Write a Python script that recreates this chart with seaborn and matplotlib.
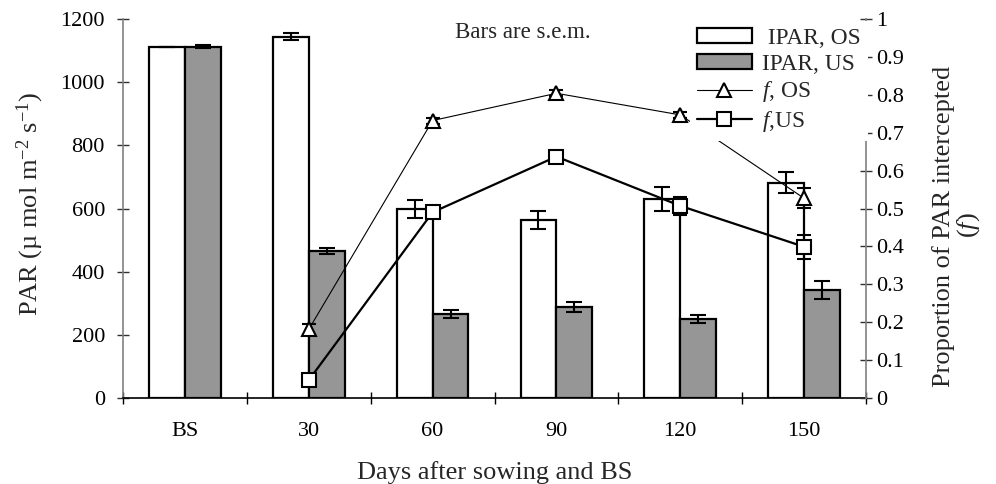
import numpy as np
import pandas as pd
import matplotlib
matplotlib.use("Agg")
import matplotlib.pyplot as plt
import seaborn as sns
from matplotlib.patches import Patch
from matplotlib.lines import Line2D

# Intercepted PAR (µmol m-2 s-1) with s.e.m., over- and under-storey
days = ["BS", "30", "60", "90", "120", "150"]
ipar_os = [1111, 1144, 598, 564, 631, 682]
ipar_os_sem = [1, 12, 28, 28, 38, 34]
ipar_us = [1112, 465, 265, 289, 251, 341]
ipar_us_sem = [5, 10, 13, 16, 13, 28]

# Proportion of PAR intercepted (f) with s.e.m.
f_days = ["30", "60", "90", "120", "150"]
f_os = [0.181, 0.732, 0.804, 0.747, 0.527]
f_os_sem = [0.014, 0.008, 0.008, 0.008, 0.026]
f_us = [0.047, 0.490, 0.637, 0.507, 0.399]
f_us_sem = [0.008, 0.008, 0.008, 0.024, 0.032]

right_ticks = [0, 0.1, 0.2, 0.3, 0.4, 0.5, 0.6, 0.7, 0.8, 0.9, 1]
right_tick_labels = ["0", "0.1", "0.2", "0.3", "0.4", "0.5", "0.6", "0.7", "0.8", "0.9", "1"]

sns.set_theme(style="white")
plt.rcParams["font.family"] = ["Liberation Serif", "DejaVu Serif"]
plt.rcParams["mathtext.fontset"] = "custom"
plt.rcParams["mathtext.rm"] = "Liberation Serif"
plt.rcParams["mathtext.it"] = "Liberation Serif:italic"

TICK_FS = 16
LEGEND_FS = 16.8
LABEL_FS = 19
GRAY = "#969696"
SPINE = "#808080"

W, H = 996, 484
fig = plt.figure(figsize=(W / 100, H / 100), dpi=100)
ax = fig.add_axes([123 / W, 1 - 398 / H, (866 - 123) / W, (398 - 19) / H])

bars = pd.DataFrame({
    "day": days * 2,
    "series": ["IPAR, OS"] * len(days) + ["IPAR, US"] * len(days),
    "par": ipar_os + ipar_us,
})
sns.barplot(data=bars, x="day", y="par", hue="series", order=days,
            hue_order=["IPAR, OS", "IPAR, US"], palette=["white", GRAY],
            saturation=1, width=0.58, edgecolor="black", linewidth=1.6,
            errorbar=None, legend=False, ax=ax)

rects = sorted(ax.patches, key=lambda p: p.get_x())
x_os = [r.get_x() + r.get_width() / 2 for r in rects[0::2]]
x_us = [r.get_x() + r.get_width() / 2 for r in rects[1::2]]
err_kw = dict(fmt="none", ecolor="black", elinewidth=1.5, capsize=5.5, capthick=1.5)
ax.errorbar(x_os, ipar_os, yerr=ipar_os_sem, **err_kw)
ax.errorbar(x_us, ipar_us, yerr=ipar_us_sem, **err_kw)

ax.set_ylim(0, 1200)
ax.set_yticks(range(0, 1201, 200))
ax.set_xlim(-0.5, len(days) - 0.5)
ax.set_xlabel("Days after sowing and BS", fontsize=LABEL_FS, labelpad=15)
ax.set_ylabel("")
ax.set_xticks(np.arange(-0.5, len(days), 1.0), minor=True)
ax.tick_params(axis="x", which="major", length=0, pad=17, labelsize=TICK_FS, colors="black")
ax.tick_params(axis="x", which="minor", direction="inout", length=9, width=1.0, color="black", bottom=True)
ax.tick_params(axis="y", which="major", direction="inout", length=9, width=1.0, color="#303030",
               pad=8.5, labelsize=TICK_FS, left=True, labelcolor="black")
for side in ("top", "right"):
    ax.spines[side].set_visible(False)
ax.spines["left"].set_color(SPINE)
ax.spines["left"].set_linewidth(1.2)
ax.spines["bottom"].set_color("black")
ax.spines["bottom"].set_linewidth(1.2)

ax2 = ax.twinx()
fx = [days.index(d) for d in f_days]
line_err = dict(fmt="none", ecolor="black", elinewidth=1.5, capsize=5, capthick=1.5)
ax2.errorbar(fx, f_os, yerr=f_os_sem, **line_err)
ax2.errorbar(fx, f_us, yerr=f_us_sem, **line_err)
sns.lineplot(x=fx, y=f_os, ax=ax2, color="black", linewidth=0.8, marker="^",
             markersize=10, markerfacecolor="white", markeredgecolor="black",
             markeredgewidth=1.5)
sns.lineplot(x=fx, y=f_us, ax=ax2, color="black", linewidth=1.6, marker="s",
             markersize=10, markerfacecolor="white", markeredgecolor="black",
             markeredgewidth=1.5)
ax2.set_xlim(-0.5, len(days) - 0.5)
ax2.set_ylim(0, 1)
ax2.set_yticks(right_ticks)
ax2.set_yticklabels(right_tick_labels)
ax2.set_ylabel("")
ax2.tick_params(axis="y", which="major", direction="inout", length=9, width=1.0, color="#303030",
                pad=3, labelsize=TICK_FS, right=True, labelcolor="black")
for side in ("top", "left", "bottom"):
    ax2.spines[side].set_visible(False)
ax2.spines["right"].set_color(SPINE)
ax2.spines["right"].set_linewidth(1.2)

handles = [
    Patch(facecolor="white", edgecolor="black", linewidth=1.6, label=" IPAR, OS"),
    Patch(facecolor=GRAY, edgecolor="black", linewidth=1.6, label="IPAR, US"),
    Line2D([], [], color="black", linewidth=0.8, marker="^", markersize=10,
           markerfacecolor="white", markeredgecolor="black", markeredgewidth=1.5,
           label="$f$, OS"),
    Line2D([], [], color="black", linewidth=1.6, marker="s", markersize=10,
           markerfacecolor="white", markeredgecolor="black", markeredgewidth=1.5,
           label="$f$,US"),
]
ax2.legend(handles=handles, loc="upper left", bbox_to_anchor=(690 / W, 1 - 21 / H),
           bbox_transform=fig.transFigure, frameon=True, fancybox=False,
           edgecolor="none", facecolor="white", framealpha=1, fontsize=LEGEND_FS,
           handlelength=2.35, handleheight=0.6, handletextpad=0.45,
           labelspacing=0.2, borderpad=0.3, borderaxespad=0)

fig.text(523 / W, 1 - 33 / H, "Bars are s.e.m.", fontsize=TICK_FS + 0.5, ha="center", va="center")
fig.text(30 / W, 1 - 204 / H, "PAR (µ mol m$^{-2}$ s$^{-1}$)", fontsize=LABEL_FS,
         rotation=90, ha="center", va="center")
fig.text(944 / W, 1 - 226 / H, "Proportion of PAR intercepted", fontsize=LABEL_FS,
         rotation=90, ha="center", va="center")
fig.text(969 / W, 1 - 225 / H, "($f$)", fontsize=LABEL_FS, rotation=90, ha="center", va="center")

fig.savefig("out.png", dpi=100, facecolor="white")
